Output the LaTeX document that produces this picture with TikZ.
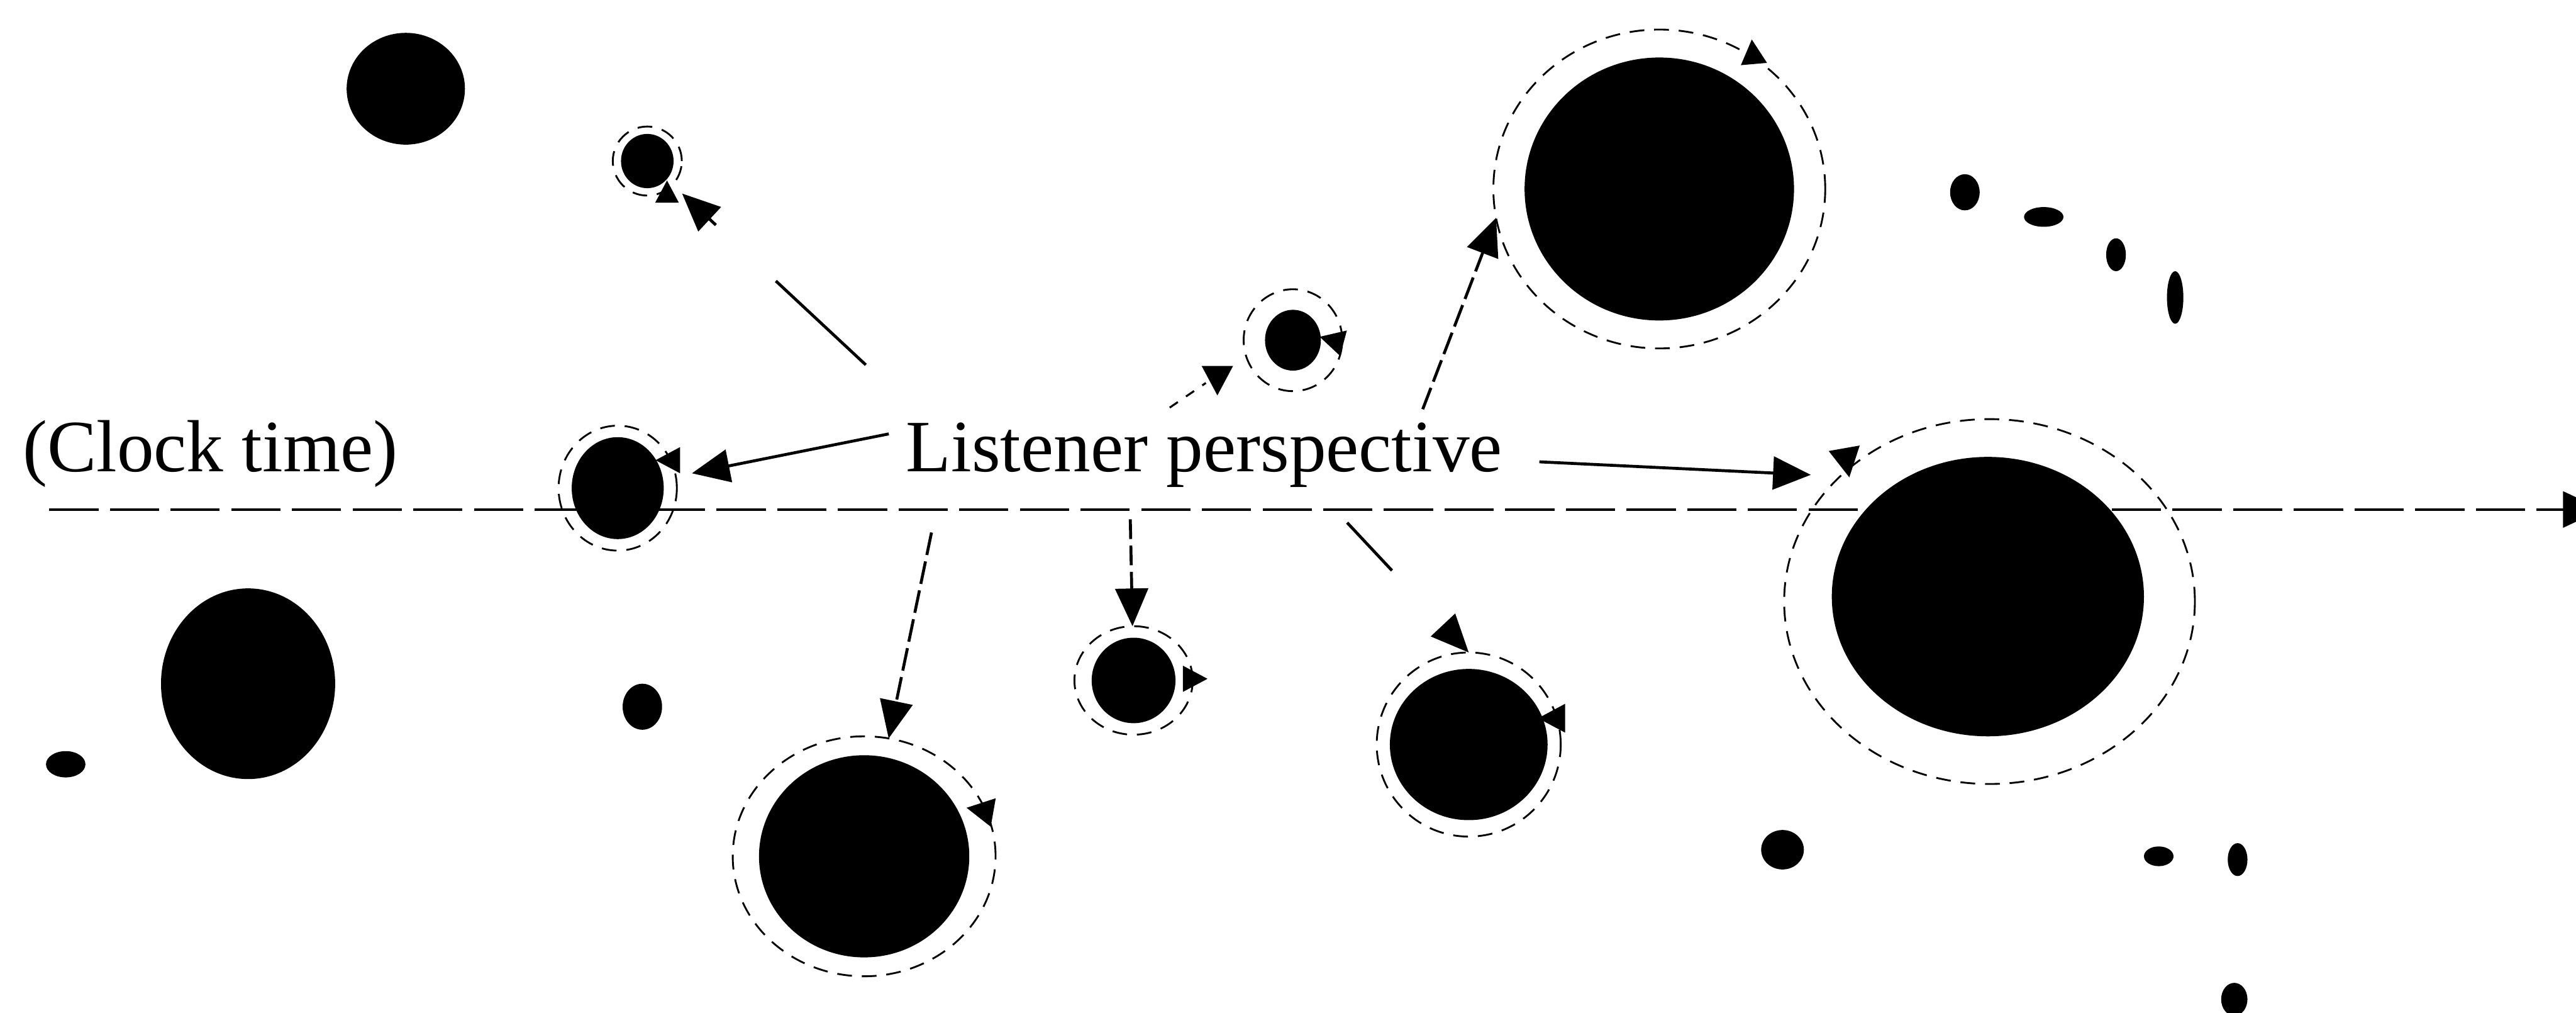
\documentclass[tikz,border=0pt]{standalone}
\usepackage{fontspec}
\setmainfont{Liberation Serif}
\usetikzlibrary{arrows.meta,shapes.geometric}
\begin{document}
\begin{tikzpicture}[x=0.035217cm,y=0.035217cm,
  blob/.style 2 args={ellipse, fill=black, inner sep=0pt, outer sep=0pt,
    minimum width={#1*0.035217cm}, minimum height={#2*0.035217cm}},
  ring/.style 2 args={ellipse, draw=black, line width=1.1pt,
    dash pattern=on 9pt off 6pt, inner sep=0pt, outer sep=0pt,
    minimum width={#1*0.035217cm}, minimum height={#2*0.035217cm}},
  link/.style={line width=1.8pt, -{Triangle[length=23pt,width=20pt]}},
  timeline/.style={line width=1.5pt, dash pattern=on 30pt off 7pt,
    -{Triangle[length=24pt,width=22pt]}},
  words/.style={font=\fontsize{45}{54}\selectfont, inner sep=0pt},
  ringtip/.pic={\fill (8pt,0) -- (-7pt,8pt) -- (-7pt,-8pt) -- cycle;},
]
% canvas
\fill[white] (0,0) rectangle (1568,616);
\useasboundingbox (0,0) rectangle (1568,616);

% time axis
\coordinate (t0) at (30,306);
\coordinate (t1) at (1584,306);
\draw[timeline] (t0) -- (t1);

% labels
\node[words, anchor=base] (clock) at (128,329) {(Clock time)};
\node[words, anchor=base] (listener) at (733,329) {Listener perspective};

% rings around the events
\node[ring={42}{42}]   (r2)  at (394,518) {};
\node[ring={72}{76}]   (r3)  at (376,319) {};
\node[ring={160}{146}] (r7)  at (526,95) {};
\node[ring={72}{66}]   (r8)  at (690,202) {};
\node[ring={112}{112}] (r9)  at (894,163) {};
\node[ring={60}{62}]   (r10) at (787,409) {};
\node[ring={202}{194}] (r11) at (1010,501) {};
\node[ring={250}{222}] (r12) at (1211,250) {};

% events
\node[blob={72}{68}]   (c1)  at (247,562) {};
\node[blob={32}{33}]   (c2)  at (394,518) {};
\node[blob={56}{62}]   (c3)  at (376,319) {};
\node[blob={106}{116}] (c4)  at (151,200) {};
\node[blob={128}{123}] (c7)  at (526,95) {};
\node[blob={51}{52}]   (c8)  at (690,202) {};
\node[blob={96}{92}]   (c9)  at (894,163) {};
\node[blob={34}{37}]   (c10) at (787,409) {};
\node[blob={164}{160}] (c11) at (1010,501) {};
\node[blob={190}{170}] (c12) at (1210,253) {};

% small events
\node[blob={24}{16}] (d1)  at (40,151) {};
\node[blob={24}{28}] (d2)  at (391,186) {};
\node[blob={18}{22}] (d3)  at (1196,499) {};
\node[blob={24}{12}] (d4)  at (1244,484) {};
\node[blob={12}{20}] (d5)  at (1288,461) {};
\node[blob={10}{32}] (d6)  at (1324,435) {};
\node[blob={26}{24}] (d7)  at (1085,99) {};
\node[blob={18}{12}] (d8)  at (1314,95) {};
\node[blob={12}{20}] (d9)  at (1362,93) {};
\node[blob={16}{20}] (d10) at (1360,8) {};

% connectors from the listener
\coordinate (sa) at (527,394);
\coordinate (sb) at (541,352);
\coordinate (sc) at (567,292);
\coordinate (sd) at (688,300);
\coordinate (se) at (820,298);
\coordinate (sf) at (866,367);
\coordinate (sg) at (937,335);
\coordinate (sh) at (712,368);
\coordinate (th) at (734,383);

\draw[link, dash pattern=on 75pt off 50pt, shorten >=8pt] (sa) -- (r2);
\draw[link, shorten >=10pt] (sb) -- (r3);
\draw[link, dash pattern=on 14pt off 4pt] (sc) -- (r7);
\draw[link, dash pattern=on 12pt off 4pt] (sd) -- (r8);
\draw[link, dash pattern=on 40pt off 50pt] (se) -- (r9.north);
\draw[link, dash pattern=on 14pt off 4pt] (sf) -- (r11.190);
\draw[link, shorten >=18pt] (sg) -- (r12.140);
\draw[line width=1.2pt, dash pattern=on 6pt off 6pt] (sh) -- (th);

% turning marks on the rings
\pic[rotate=90, scale=0.9]  (k2)  at (406,499) {ringtip};
\pic[rotate=180]            (k3)  at (407,336) {ringtip};
\pic[rotate=170, scale=1.1] (k7)  at (597,123) {ringtip};
\pic[rotate=0]              (k8)  at (727,203) {ringtip};
\pic[rotate=180, scale=1.1] (k9)  at (945,179) {ringtip};
\pic[rotate=165]            (k10) at (811,409) {ringtip};
\pic[rotate=270, scale=1.2] (kh)  at (741,385) {ringtip};
\pic[rotate=95]             (k11) at (1067,584) {ringtip};
\pic[rotate=280, scale=1.2] (k12) at (1124,335) {ringtip};
\end{tikzpicture}
\end{document}
